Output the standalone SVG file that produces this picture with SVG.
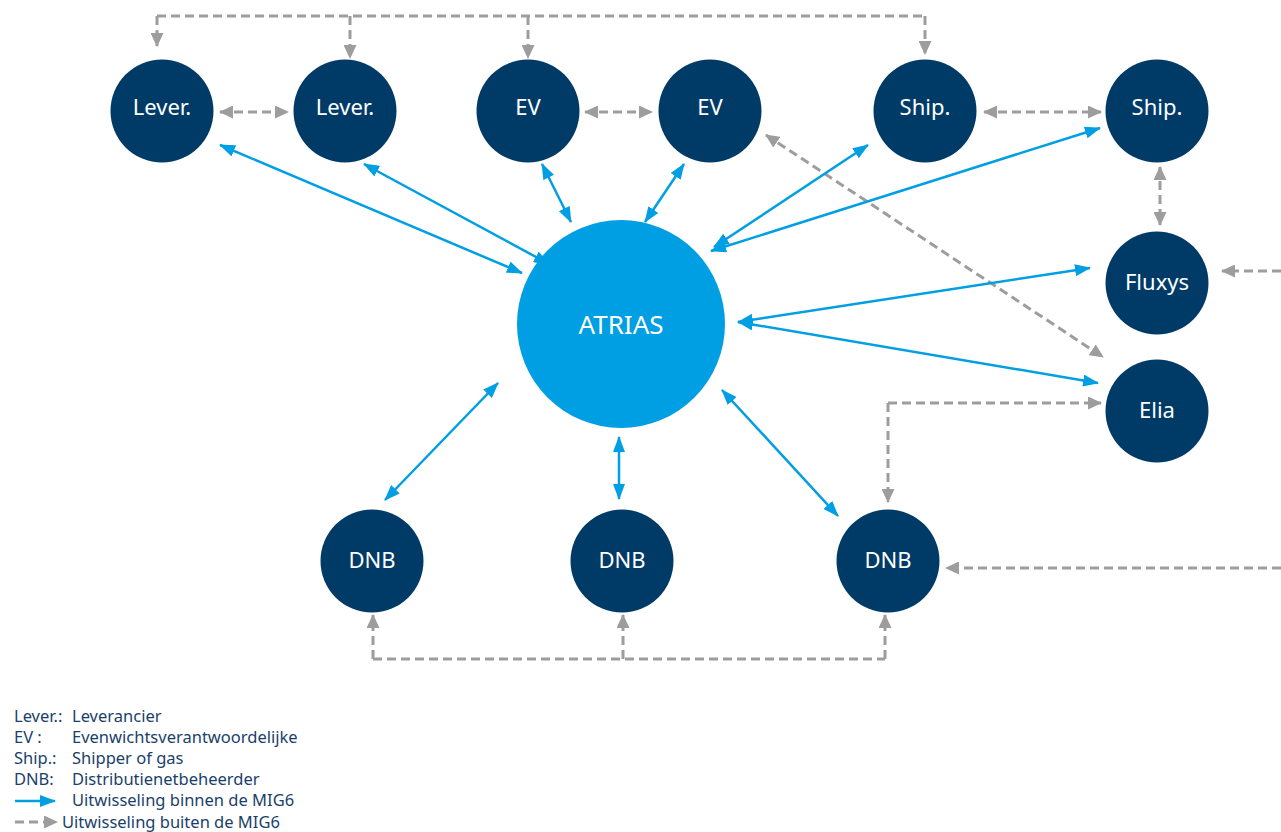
<svg xmlns="http://www.w3.org/2000/svg" width="1281" height="832" viewBox="0 0 1281 832">
<style>
.node{fill:#003b67}
.atrias{fill:#009fe3}
.lbl{fill:#ffffff;font-family:"Noto Sans","Open Sans","Liberation Sans",sans-serif;font-size:22px;text-anchor:middle}
.blue{stroke:#009fe3;stroke-width:2.5;fill:none;marker-start:url(#hb);marker-end:url(#hb)}
.gray{stroke:#9d9d9d;stroke-width:3;fill:none;stroke-dasharray:9,5}
.ge{marker-end:url(#hg)}
.gs{marker-start:url(#hg)}
.leg{fill:#1a3f6b;font-family:"Noto Sans","Open Sans","Liberation Sans",sans-serif;font-size:16.5px}
</style>
<defs>
<marker id="hb" viewBox="0 0 16 12" refX="15" refY="6" markerWidth="16" markerHeight="12" markerUnits="userSpaceOnUse" orient="auto-start-reverse"><path d="M0,0 L16,6 L0,12 z" fill="#009fe3"/></marker>
<marker id="hg" viewBox="0 0 14 13" refX="13" refY="6.5" markerWidth="14" markerHeight="13" markerUnits="userSpaceOnUse" orient="auto-start-reverse"><path d="M0,0 L14,6.5 L0,13 z" fill="#9d9d9d"/></marker>
</defs>
<rect width="1281" height="832" fill="#ffffff"/>
<g id="connectors">
<path class="gray" d="M157,16 H925"/>
<path class="gray ge" d="M157,16 V46"/>
<path class="gray ge" d="M350,16 V58"/>
<path class="gray ge" d="M528,16 V58"/>
<path class="gray ge" d="M925,16 V54"/>
<path class="gray gs ge" d="M220,112 H288"/>
<path class="gray gs ge" d="M585,112 H652"/>
<path class="gray gs ge" d="M984,112 H1101"/>
<path class="gray gs ge" d="M1160,167 V225"/>
<path class="gray ge" d="M1281,271 H1222"/>
<path class="gray gs ge" d="M766,135 L1103,357"/>
<path class="gray ge" d="M888,403 V502"/>
<path class="gray ge" d="M888,403 H1101"/>
<path class="gray ge" d="M1281,568 H946"/>
<path class="gray" d="M373,659 H885"/>
<path class="gray ge" d="M373,659 V615"/>
<path class="gray ge" d="M623,659 V615"/>
<path class="gray ge" d="M885,659 V615"/>
<path class="blue" d="M220,145 L522,273"/>
<path class="blue" d="M364,164 L549,264"/>
<path class="blue" d="M542,164 L571,222"/>
<path class="blue" d="M684,164 L645,222"/>
<path class="blue" d="M868,145 L714,247"/>
<path class="blue" d="M1100,128 L711,251"/>
<path class="blue" d="M738,322 L1090,268"/>
<path class="blue" d="M738,322 L1098,383"/>
<path class="blue" d="M498,383 L385,500"/>
<path class="blue" d="M619,437 L619,499"/>
<path class="blue" d="M722,390 L838,516"/>
</g>
<g id="atrias"><circle class="atrias" cx="621" cy="324" r="104"/><text class="lbl" x="621" y="334" style="font-size:26px">ATRIAS</text></g>
<g id="lever1"><circle class="node" cx="162" cy="111" r="51.5"/><text class="lbl" x="162" y="115">Lever.</text></g>
<g id="lever2"><circle class="node" cx="345" cy="111" r="51.5"/><text class="lbl" x="345" y="115">Lever.</text></g>
<g id="ev1"><circle class="node" cx="528" cy="111" r="51.5"/><text class="lbl" x="528" y="115">EV</text></g>
<g id="ev2"><circle class="node" cx="710" cy="111" r="51.5"/><text class="lbl" x="710" y="115">EV</text></g>
<g id="ship1"><circle class="node" cx="925" cy="111" r="51.5"/><text class="lbl" x="925" y="115">Ship.</text></g>
<g id="ship2"><circle class="node" cx="1157" cy="111" r="51.5"/><text class="lbl" x="1157" y="115">Ship.</text></g>
<g id="fluxys"><circle class="node" cx="1157" cy="283" r="51.5"/><text class="lbl" x="1157" y="290">Fluxys</text></g>
<g id="elia"><circle class="node" cx="1157" cy="411" r="51.5"/><text class="lbl" x="1157" y="418">Elia</text></g>
<g id="dnb1"><circle class="node" cx="372" cy="561" r="51.5"/><text class="lbl" x="372" y="568">DNB</text></g>
<g id="dnb2"><circle class="node" cx="622" cy="561" r="51.5"/><text class="lbl" x="622" y="568">DNB</text></g>
<g id="dnb3"><circle class="node" cx="888" cy="561" r="51.5"/><text class="lbl" x="888" y="568">DNB</text></g>
<g id="legend">
<text class="leg" x="14" y="722">Lever.:</text><text class="leg" x="72" y="722">Leverancier</text>
<text class="leg" x="14" y="743">EV :</text><text class="leg" x="72" y="743">Evenwichtsverantwoordelijke</text>
<text class="leg" x="14" y="764">Ship.:</text><text class="leg" x="72" y="764">Shipper of gas</text>
<text class="leg" x="14" y="785">DNB:</text><text class="leg" x="72" y="785">Distributienetbeheerder</text>
<path d="M15,801 H55" stroke="#009fe3" stroke-width="2.5" marker-end="url(#hb)"/>
<text class="leg" x="72" y="806">Uitwisseling binnen de MIG6</text>
<path class="gray ge" d="M15,822 H57"/>
<text class="leg" x="62" y="828">Uitwisseling buiten de MIG6</text>
</g>
</svg>
